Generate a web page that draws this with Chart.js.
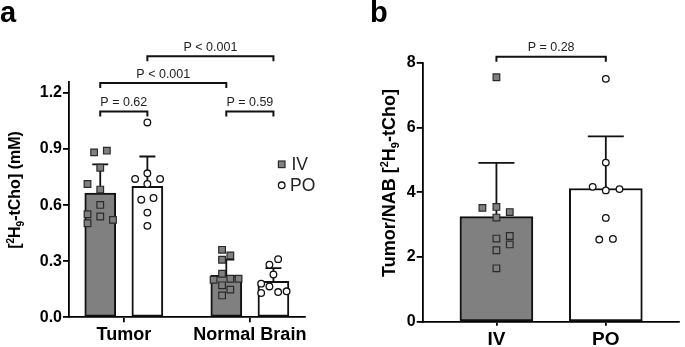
<!DOCTYPE html>
<html>
<head>
<meta charset="utf-8">
<script src="https://cdn.jsdelivr.net/npm/chart.js@4.4.1/dist/chart.umd.min.js"></script>
<style>
  html, body { margin: 0; padding: 0; background: #fff; }
  #wrap { position: relative; width: 685px; height: 347px; }
  #chartA { position: absolute; left: 0; top: 0; }
  #chartB { position: absolute; left: 340px; top: 0; }
</style>
</head>
<body>
<div id="wrap">
  <canvas id="chartA" width="340" height="347"></canvas>
  <canvas id="chartB" width="345" height="347"></canvas>
</div>
<script>
// ---- panel a: [2H9-tCho] (mM) by tissue and route
const tissues = ['Tumor', 'Normal Brain'];
const routes = ['IV', 'PO'];
const ivMeanA = [0.665, 0.224];
const ivSdA = [0.153, 0.084];
const poMeanA = [0.700, 0.193];
const poSdA = [0.160, 0.070];
const tumorIv = [0.882, 0.891, 0.800, 0.713, 0.683, 0.601, 0.551, 0.539, 0.521, 0.503];
const tumorIvDx = [-0.13, 0.14, 0, -0.27, 0, 0, -0.27, 0, 0.27, -0.27];
const tumorPo = [1.042, 0.770, 0.740, 0.740, 0.713, 0.629, 0.638, 0.560, 0.489];
const tumorPoDx = [0, 0, -0.26, 0.27, 0, -0.13, 0.13, 0, 0];
const brainIv = [0.361, 0.308, 0.331, 0.233, 0.201, 0.206, 0.206, 0.171, 0.148, 0.117];
const brainIvDx = [-0.09, -0.09, 0.085, -0.09, -0.27, 0.085, 0.26, -0.09, 0.085, -0.09];
const brainPo = [0.311, 0.281, 0.229, 0.180, 0.165, 0.130, 0.135, 0.139];
const brainPoDx = [0.1, -0.085, 0, -0.26, -0.085, -0.26, 0.1, 0.28];
const ticksA = [0, 0.3, 0.6, 0.9, 1.2];
const pLabelsA = ['P = 0.62', 'P = 0.59', 'P < 0.001', 'P < 0.001'];

// ---- panel b: Tumor/NAB ratio
const ivRatio = [7.56, 3.52, 3.55, 3.39, 3.22, 2.57, 2.65, 2.39, 2.21, 1.65];
const ivRatioDx = [0, -0.128, 0, 0.122, 0, 0, 0.122, 0.122, 0, 0];
const poRatio = [7.51, 4.92, 4.17, 4.06, 4.10, 3.21, 2.54, 2.56];
const poRatioDx = [0, 0, -0.12, 0, 0.125, 0, -0.06, 0.065];
const meanB = [3.25, 4.12];
const sdB = [1.66, 1.61];
const ticksB = [0, 2, 4, 6, 8];
const pLabelB = 'P = 0.28';

const FONT = '"Liberation Sans", Arial, sans-serif';
const GRAY = '#808080';
const INK = '#111';

// group positions on the numeric x axis (layout)
const GAP = 2.675;
const posA = [0, 1, GAP, GAP + 1]; // Tumor IV, Tumor PO, Brain IV, Brain PO

function pts(vals, dx, x0) {
  return vals.map((v, i) => ({ x: x0 + dx[i], y: v }));
}

function drawTitle(ctx, parts, baseX, cy, size) {
  ctx.save();
  ctx.translate(baseX, cy);
  ctx.rotate(-Math.PI / 2);
  ctx.fillStyle = '#000';
  ctx.textBaseline = 'alphabetic';
  const fontOf = p => 'bold ' + ((p.sup || p.sub) ? Math.round(size * 0.62) : size) + 'px ' + FONT;
  let total = 0;
  parts.forEach(p => { ctx.font = fontOf(p); total += ctx.measureText(p.t).width; });
  let x = -total / 2;
  parts.forEach(p => {
    ctx.font = fontOf(p);
    const dy = p.sup ? -size * 0.38 : (p.sub ? size * 0.22 : 0);
    ctx.fillText(p.t, x, dy);
    x += ctx.measureText(p.t).width;
  });
  ctx.restore();
}

function drawBracket(chart, x1, x2, yv, label) {
  const ctx = chart.ctx;
  const sx = chart.scales.x, sy = chart.scales.y;
  const a = sx.getPixelForValue(x1), b = sx.getPixelForValue(x2), y = sy.getPixelForValue(yv);
  ctx.save();
  ctx.strokeStyle = INK;
  ctx.lineWidth = 2;
  ctx.beginPath();
  ctx.moveTo(a, y + 5);
  ctx.lineTo(a, y);
  ctx.lineTo(b, y);
  ctx.lineTo(b, y + 5);
  ctx.stroke();
  ctx.fillStyle = '#222';
  ctx.font = '12.5px ' + FONT;
  ctx.textAlign = 'center';
  ctx.textBaseline = 'alphabetic';
  ctx.fillText(label, (a + b) / 2, y - 5.5);
  ctx.restore();
}

function drawErrorBars(chart, xs, means, sds, capHalf) {
  const ctx = chart.ctx;
  const sx = chart.scales.x, sy = chart.scales.y;
  ctx.save();
  ctx.strokeStyle = INK;
  ctx.lineWidth = 1.8;
  xs.forEach((xv, i) => {
    const x = sx.getPixelForValue(xv);
    const y0 = sy.getPixelForValue(means[i]);
    const y1 = sy.getPixelForValue(means[i] + sds[i]);
    ctx.beginPath();
    ctx.moveTo(x, y0);
    ctx.lineTo(x, y1);
    ctx.moveTo(x - capHalf, y1);
    ctx.lineTo(x + capHalf, y1);
    ctx.stroke();
  });
  ctx.restore();
}

function axisStyle(tickLen) {
  return {
    offset: false,
    grid: { offset: false, drawOnChartArea: false, drawTicks: true, tickLength: tickLen, color: '#000', lineWidth: 1.8 },
    border: { display: true, color: '#000', width: 1.8 }
  };
}

const ivPointStyle = { pointStyle: 'rect', radius: 4.7, backgroundColor: GRAY, borderColor: '#2a2a2a', borderWidth: 1.2 };
const poPointStyle = { pointStyle: 'circle', radius: 3.3, backgroundColor: '#fff', borderColor: INK, borderWidth: 1.3 };

// ---------------- panel a
const meansA = [ivMeanA[0], poMeanA[0], ivMeanA[1], poMeanA[1]];
const sdsA = [ivSdA[0], poSdA[0], ivSdA[1], poSdA[1]];

const plugA = {
  id: 'plugA',
  afterDatasetDraw(chart, args) {
    if (args.index === 0) drawErrorBars(chart, posA, meansA, sdsA, 8);
  },
  afterDraw(chart) {
    const ctx = chart.ctx;
    drawBracket(chart, posA[0], posA[1], 1.101, pLabelsA[0]);
    drawBracket(chart, posA[2], posA[3], 1.101, pLabelsA[1]);
    drawBracket(chart, posA[0], posA[2], 1.253, pLabelsA[2]);
    drawBracket(chart, posA[1], posA[3], 1.396, pLabelsA[3]);
    drawTitle(ctx, [{ t: '[' }, { t: '2', sup: true }, { t: 'H' }, { t: '9', sub: true }, { t: '-tCho] (mM)' }], 20, 190, 16);
    // panel letter
    ctx.save();
    ctx.fillStyle = '#000';
    ctx.font = 'bold 29px ' + FONT;
    ctx.textBaseline = 'alphabetic';
    ctx.fillText('a', 0, 22);
    // legend
    ctx.font = '17.5px ' + FONT;
    ctx.textBaseline = 'middle';
    ctx.fillStyle = GRAY; ctx.strokeStyle = '#2a2a2a'; ctx.lineWidth = 1.2;
    ctx.fillRect(278.4, 161, 6.6, 6.6); ctx.strokeRect(278.4, 161, 6.6, 6.6);
    ctx.beginPath(); ctx.arc(281.7, 185.3, 3.3, 0, Math.PI * 2);
    ctx.fillStyle = '#fff'; ctx.fill(); ctx.strokeStyle = INK; ctx.lineWidth = 1.3; ctx.stroke();
    ctx.fillStyle = '#222';
    ctx.fillText(routes[0], 291.5, 165);
    ctx.fillText(routes[1], 290, 186);
    ctx.restore();
  }
};

new Chart(document.getElementById('chartA'), {
  type: 'bar',
  data: {
    datasets: [
      {
        type: 'bar',
        data: posA.map((x, i) => ({ x: x, y: meansA[i] })),
        backgroundColor: [GRAY, '#fff', GRAY, '#fff'],
        borderColor: INK,
        borderWidth: 2,
        borderSkipped: false,
        barThickness: 31,
        order: 2
      },
      Object.assign({ type: 'scatter', data: pts(tumorIv, tumorIvDx, posA[0]), order: 1 }, ivPointStyle),
      Object.assign({ type: 'scatter', data: pts(tumorPo, tumorPoDx, posA[1]), order: 1 }, poPointStyle),
      Object.assign({ type: 'scatter', data: pts(brainIv, brainIvDx, posA[2]), order: 1 }, ivPointStyle),
      Object.assign({ type: 'scatter', data: pts(brainPo, brainPoDx, posA[3]), order: 1 }, poPointStyle)
    ]
  },
  options: {
    responsive: false,
    animation: false,
    devicePixelRatio: 1,
    layout: { padding: { left: 0, right: 35, top: 81.7, bottom: 0 } },
    plugins: { legend: { display: false }, tooltip: { enabled: false } },
    scales: {
      x: Object.assign({
        type: 'linear',
        min: -0.663,
        max: GAP + 1 + 0.67,
        afterBuildTicks: s => { s.ticks = [{ value: (posA[0] + posA[1]) / 2 }, { value: (posA[2] + posA[3]) / 2 }]; },
        afterFit: s => { s.height = 29.7; },
        ticks: {
          autoSkip: false, maxRotation: 0, padding: 2, color: '#000',
          font: { family: FONT, size: 18, weight: 'bold' },
          callback: (v, i) => tissues[i]
        }
      }, axisStyle(5)),
      y: Object.assign({
        min: 0,
        max: 1.26,
        afterBuildTicks: s => { s.ticks = ticksA.map(v => ({ value: v })); },
        afterFit: s => { s.width = 69; },
        ticks: {
          padding: 1, color: '#000',
          font: { family: FONT, size: 16, weight: 'bold' },
          callback: v => v.toFixed(1)
        }
      }, axisStyle(6))
    }
  },
  plugins: [plugA]
});

// ---------------- panel b
const posB = [0, 1];

const plugB = {
  id: 'plugB',
  afterDatasetDraw(chart, args) {
    if (args.index === 0) drawErrorBars(chart, posB, meanB, sdB, 18);
  },
  afterDraw(chart) {
    const ctx = chart.ctx;
    drawBracket(chart, posB[0], posB[1], 8.19, pLabelB);
    drawTitle(ctx, [{ t: 'Tumor/NAB [' }, { t: '2', sup: true }, { t: 'H' }, { t: '9', sub: true }, { t: '-tCho]' }], 55, 183, 18);
    ctx.save();
    ctx.fillStyle = '#000';
    ctx.font = 'bold 29px ' + FONT;
    ctx.textBaseline = 'alphabetic';
    ctx.fillText('b', 30, 22);
    ctx.restore();
  }
};

new Chart(document.getElementById('chartB'), {
  type: 'bar',
  data: {
    datasets: [
      {
        type: 'bar',
        data: posB.map((x, i) => ({ x: x, y: meanB[i] })),
        backgroundColor: [GRAY, '#fff'],
        borderColor: INK,
        borderWidth: 2,
        borderSkipped: false,
        barThickness: 73,
        order: 2
      },
      Object.assign({ type: 'scatter', data: pts(ivRatio, ivRatioDx, posB[0]), order: 1 }, ivPointStyle),
      Object.assign({ type: 'scatter', data: pts(poRatio, poRatioDx, posB[1]), order: 1 }, poPointStyle)
    ]
  },
  options: {
    responsive: false,
    animation: false,
    devicePixelRatio: 1,
    layout: { padding: { left: 0, right: 2, top: 63, bottom: 0 } },
    plugins: { legend: { display: false }, tooltip: { enabled: false } },
    scales: {
      x: Object.assign({
        type: 'linear',
        min: -0.674,
        max: 1.67,
        afterBuildTicks: s => { s.ticks = posB.map(v => ({ value: v })); },
        afterFit: s => { s.height = 25.3; },
        ticks: {
          autoSkip: false, maxRotation: 0, padding: 3, color: '#000',
          font: { family: FONT, size: 19, weight: 'bold' },
          callback: (v, i) => routes[i]
        }
      }, axisStyle(4)),
      y: Object.assign({
        min: 0,
        max: 8,
        afterBuildTicks: s => { s.ticks = ticksB.map(v => ({ value: v })); },
        afterFit: s => { s.width = 82.7; },
        ticks: {
          padding: 1, color: '#000',
          font: { family: FONT, size: 16, weight: 'bold' },
          callback: v => String(v)
        }
      }, axisStyle(6))
    }
  },
  plugins: [plugB]
});
</script>
</body>
</html>
